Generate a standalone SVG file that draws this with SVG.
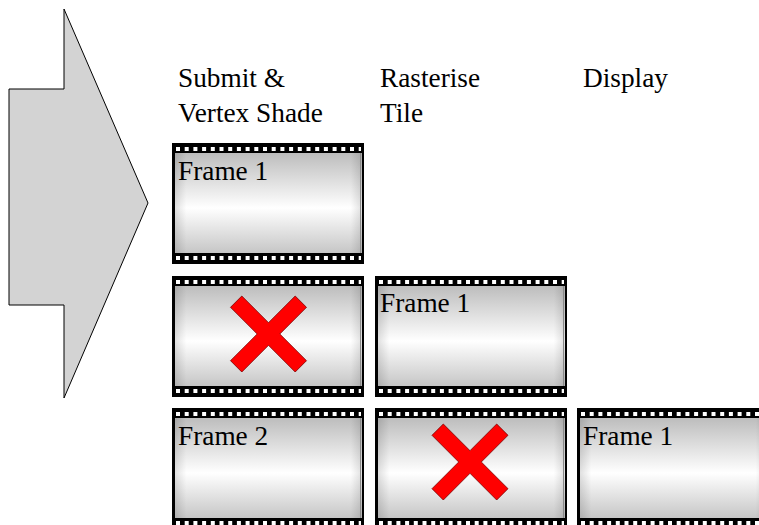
<svg xmlns="http://www.w3.org/2000/svg" xmlns:xlink="http://www.w3.org/1999/xlink" width="759" height="525" viewBox="0 0 759 525">
  <style>
    .lbl { font-family: "Liberation Serif", "Times New Roman", serif; font-size: 27.3px; fill: #000; }
    .cross { fill: #ff0000; stroke: #7a0000; stroke-width: 0.8; }
  </style>
  <defs>
    <linearGradient id="sheen" x1="0" y1="0" x2="0" y2="1">
      <stop offset="0" stop-color="#bdbdbd"/>
      <stop offset="0.55" stop-color="#ffffff"/>
      <stop offset="1" stop-color="#c6c6c6"/>
    </linearGradient>
    <linearGradient id="edge" x1="0" y1="0" x2="1" y2="0">
      <stop offset="0" stop-color="#000" stop-opacity="0.12"/>
      <stop offset="0.06" stop-color="#000" stop-opacity="0"/>
      <stop offset="0.94" stop-color="#000" stop-opacity="0"/>
      <stop offset="1" stop-color="#000" stop-opacity="0.12"/>
    </linearGradient>
    <symbol id="film" width="192" height="121" viewBox="0 0 192 121" overflow="visible">
      <rect x="0" y="0" width="192" height="121" fill="#000"/>
      <rect x="3" y="10" width="187" height="100" fill="url(#sheen)"/>
      <rect x="3" y="10" width="187" height="100" fill="url(#edge)"/>
      <line x1="188.5" y1="10" x2="188.5" y2="110" stroke="#8a8a8a" stroke-width="1"/>
      <line x1="4" y1="6" x2="189" y2="6" stroke="#fff" stroke-width="4" stroke-dasharray="4 4.7"/>
      <line x1="4" y1="115" x2="189" y2="115" stroke="#fff" stroke-width="4" stroke-dasharray="4 4.7"/>
    </symbol>
    <polygon id="x" points="0,-11.3 26.7,-38 38,-26.7 11.3,0 38,26.7 26.7,38 0,11.3 -26.7,38 -38,26.7 -11.3,0 -38,-26.7 -26.7,-38"/>
  </defs>

  <g id="arrow">
    <polygon points="64,9 148,203 64,398 64,305 9,305 9,89 64,89" fill="#d3d3d3" stroke="#000" stroke-width="1"/>
  </g>

  <g id="headers">
    <g id="h-submit">
      <text class="lbl" x="178" y="87">Submit &amp;</text>
      <text class="lbl" x="178" y="122">Vertex Shade</text>
    </g>
    <g id="h-raster">
      <text class="lbl" x="380" y="87">Rasterise</text>
      <text class="lbl" x="380" y="122">Tile</text>
    </g>
    <g id="h-display">
      <text class="lbl" x="583" y="87">Display</text>
    </g>
  </g>

  <g id="r1c1">
    <use xlink:href="#film" x="172" y="143"/>
    <text class="lbl" x="178" y="180">Frame 1</text>
  </g>

  <g id="r2c1">
    <use xlink:href="#film" x="172" y="276"/>
    <use xlink:href="#x" class="cross" x="268.5" y="334"/>
  </g>
  <g id="r2c2">
    <use xlink:href="#film" x="375" y="276"/>
    <text class="lbl" x="380" y="312">Frame 1</text>
  </g>

  <g id="r3c1">
    <use xlink:href="#film" x="172" y="408"/>
    <text class="lbl" x="178" y="445">Frame 2</text>
  </g>
  <g id="r3c2">
    <use xlink:href="#film" x="375" y="408"/>
    <use xlink:href="#x" class="cross" x="470" y="462"/>
  </g>
  <g id="r3c3">
    <use xlink:href="#film" x="577" y="408"/>
    <text class="lbl" x="583" y="445">Frame 1</text>
  </g>

  <g id="connectors"></g>
</svg>
